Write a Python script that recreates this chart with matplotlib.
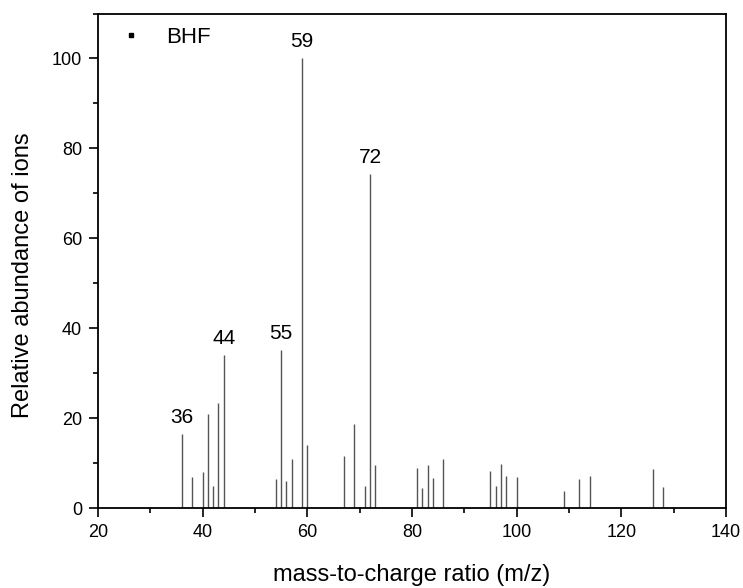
import matplotlib
matplotlib.use('Agg')
import matplotlib.pyplot as plt
from matplotlib.ticker import MultipleLocator

plt.rcParams['font.family'] = ['Liberation Sans', 'DejaVu Sans']

# m/z peaks and relative abundance
mz = [36, 38, 40, 41, 42, 43, 44,
      54, 55, 56, 57, 59, 60,
      67, 69, 71, 72, 73,
      81, 82, 83, 84, 86,
      95, 96, 97, 98, 100,
      109, 112, 114, 126, 128]
abundance = [16.5, 7.0, 8.0, 21.0, 5.0, 23.3, 34.0,
             6.5, 35.2, 6.0, 11.0, 100.0, 14.0,
             11.5, 18.8, 5.0, 74.2, 9.6,
             9.0, 4.5, 9.6, 6.6, 10.8,
             8.2, 4.8, 9.8, 7.1, 6.8,
             3.7, 6.4, 7.2, 8.7, 4.6]
labelled = [36, 44, 55, 59, 72]

fig = plt.figure(figsize=(7.43, 5.88), dpi=100)
ax = fig.add_axes([0.132, 0.136, 0.845, 0.841])

ax.vlines(mz, 0, abundance, colors='#555555', linewidth=1.0)
ax.plot([], [], 's', color='black', markersize=2.5, label='BHF')

for m, a in zip(mz, abundance):
    if m in labelled:
        ax.text(m, a + 1.6, str(m), ha='center', va='bottom', fontsize=15)

ax.set_xlim(20, 140)
ax.set_ylim(0, 110)
ax.xaxis.set_major_locator(MultipleLocator(20))
ax.xaxis.set_minor_locator(MultipleLocator(10))
ax.yaxis.set_major_locator(MultipleLocator(20))
ax.yaxis.set_minor_locator(MultipleLocator(10))
ax.tick_params(which='major', direction='out', length=6.5, width=1.2,
               labelsize=13, pad=5)
ax.tick_params(which='minor', direction='out', length=3.5, width=1.2)
for s in ax.spines.values():
    s.set_linewidth(1.3)

ax.set_xlabel('mass-to-charge ratio (m/z)', fontsize=17)
ax.set_ylabel('Relative abundance of ions', fontsize=17)
ax.xaxis.set_label_coords(0.5, -0.136)
ax.xaxis.label.set_va('center')
ax.yaxis.set_label_coords(-0.119, 0.47)
ax.yaxis.label.set_va('center')

ax.legend(loc='upper left', frameon=False, fontsize=16, handlelength=1.8,
          handletextpad=0.67, borderaxespad=0.3, borderpad=0.3)

fig.savefig('out.png', dpi=100)
